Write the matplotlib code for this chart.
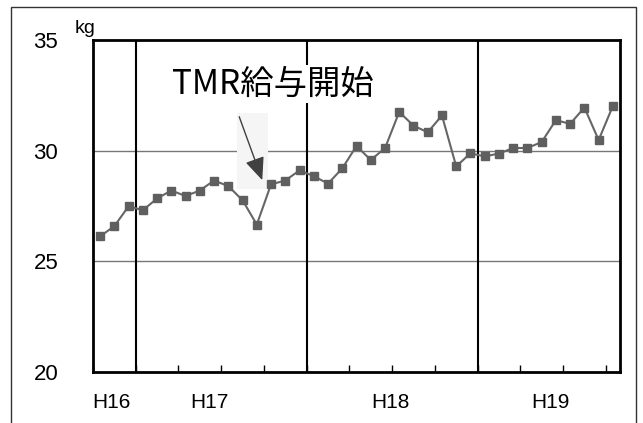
import matplotlib.pyplot as plt
from matplotlib.patches import Rectangle

# 月ごとの体重 (kg)
weights = [26.13, 26.59, 27.49, 27.31, 27.84, 28.20, 27.95, 28.20, 28.65, 28.40,
           27.76, 26.66, 28.48, 28.65, 29.11, 28.85, 28.51, 29.20, 30.21, 29.58,
           30.11, 31.75, 31.13, 30.83, 31.59, 29.29, 29.88, 29.74, 29.87, 30.12,
           30.12, 30.39, 31.38, 31.21, 31.95, 30.48, 32.02]
year_labels = ['H16', 'H17', 'H18', 'H19']
year_label_pos = [0.8, 7.7, 20.4, 31.6]
year_breaks = [2.5, 14.5, 26.5]
y_ticks = [20, 25, 30, 35]

fig = plt.figure(figsize=(6.43, 4.23), dpi=100)
ax = fig.add_axes([93 / 643, 51 / 423, 527 / 643, 332 / 423])

x = list(range(len(weights)))
ax.plot(x, weights, color='#666666', lw=1.5, marker='s', markersize=6,
        markerfacecolor='#5f5f5f', markeredgecolor='#5f5f5f', zorder=4)

for v in [25, 30]:
    ax.axhline(v, color='#777777', lw=1, zorder=1)
for b in year_breaks:
    ax.axvline(b, color='black', lw=1.5, zorder=2)

ax.set_xlim(-0.5, len(weights) - 0.5)
ax.set_ylim(20, 35)
ax.set_yticks(y_ticks)
ax.set_yticklabels([str(t) for t in y_ticks], fontsize=16, family='Liberation Sans')
ax.tick_params(axis='y', length=0, pad=25)
ax.set_xticks([-0.5 + 3 * k for k in range(13)])
ax.set_xticklabels([])
ax.tick_params(axis='x', direction='in', length=5, width=1, color='black')
for s in ax.spines.values():
    s.set_linewidth(2)

for lab, p in zip(year_labels, year_label_pos):
    ax.text(p, 18.6, lab, ha='center', va='center', fontsize=15,
            family='Liberation Sans', clip_on=False)

ax.text(-0.015, 1.035, 'kg', transform=ax.transAxes, ha='center', va='center',
        fontsize=14, family='Liberation Sans')

# 矢印の背景 (スキャンの影)
ax.add_patch(Rectangle((9.6, 28.25), 2.2, 3.45, facecolor='#f5f5f5',
                       edgecolor='none', zorder=1.5))
ax.annotate('', xy=(11.45, 28.55), xytext=(9.7, 31.65),
            arrowprops=dict(arrowstyle='-|>,head_length=1.4,head_width=0.6',
                            color='#404040', lw=1), zorder=5)

ax.text(12.1, 33.0, 'TMR給与開始', ha='center', va='center', fontsize=24,
        family=['Noto Sans CJK JP', 'DejaVu Sans'],
        bbox=dict(facecolor='white', edgecolor='none', pad=1), zorder=6)

fig.add_artist(Rectangle((11 / 643, -0.01), 625 / 643, (416 / 423) + 0.01,
                         transform=fig.transFigure, fill=False,
                         edgecolor='#333333', lw=1))

fig.savefig('out.png', dpi=100)
